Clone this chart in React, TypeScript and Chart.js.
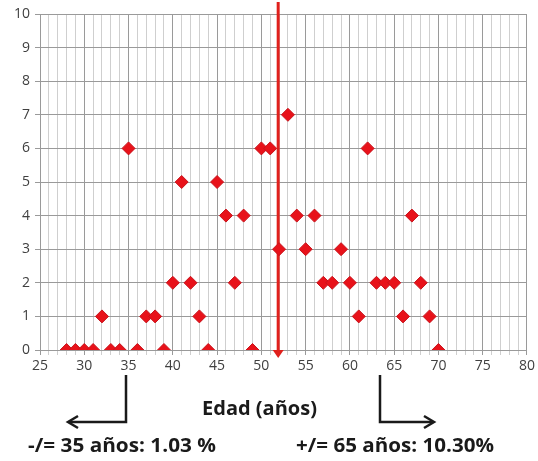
import React, { useEffect, useRef } from "react";
import { Chart, registerables } from "chart.js";

Chart.register(...registerables);

const ages = [28, 29, 30, 31, 32, 33, 34, 35, 36, 37, 38, 39, 40, 41, 42, 43, 44, 45, 46, 47, 48, 49, 50, 51, 52, 53, 54, 55, 56, 57, 58, 59, 60, 61, 62, 63, 64, 65, 66, 67, 68, 69, 70];
const counts = [0, 0, 0, 0, 1, 0, 0, 6, 0, 1, 1, 0, 2, 5, 2, 1, 0, 5, 4, 2, 4, 0, 6, 6, 3, 7, 4, 3, 4, 2, 2, 3, 2, 1, 6, 2, 2, 2, 1, 4, 2, 1, 0];
const meanAge = 51.9;
const xTitle = "Edad (años)";
const leftNote = "-/= 35 años: 1.03 %";
const rightNote = "+/= 65 años: 10.30%";

function fitText(ctx: any, text: string, x: number, y: number, width: number) {
  const w = ctx.measureText(text).width;
  ctx.save();
  ctx.translate(x, y);
  ctx.scale(width / w, 1);
  ctx.fillText(text, 0, 0);
  ctx.restore();
}

const overlay = {
  id: "overlay",
  beforeDatasetsDraw(chart: any) {
    const { ctx, scales } = chart;
    const x = scales.x.getPixelForValue(meanAge);
    const yBottom = scales.y.getPixelForValue(0);
    ctx.save();
    ctx.strokeStyle = "#e0201c";
    ctx.fillStyle = "#e0201c";
    ctx.lineWidth = 3;
    ctx.beginPath();
    ctx.moveTo(x, 2);
    ctx.lineTo(x, yBottom);
    ctx.stroke();
    ctx.beginPath();
    ctx.moveTo(x - 5.5, yBottom);
    ctx.lineTo(x + 5.5, yBottom);
    ctx.lineTo(x, yBottom + 8);
    ctx.closePath();
    ctx.fill();
    ctx.restore();
  },
  afterDraw(chart: any) {
    const { ctx } = chart;
    ctx.save();
    ctx.fillStyle = "#1a1a1a";
    ctx.textBaseline = "middle";
    ctx.font = "bold 20px 'Open Sans', sans-serif";
    ctx.textAlign = "left";
    fitText(ctx, xTitle, 202, 409, 115);
    fitText(ctx, leftNote, 28, 446, 188);
    fitText(ctx, rightNote, 296, 446, 198);

    ctx.strokeStyle = "#1a1a1a";
    ctx.lineWidth = 2.5;
    ctx.lineJoin = "miter";
    // left arrow
    ctx.beginPath();
    ctx.moveTo(126, 375);
    ctx.lineTo(126, 422);
    ctx.lineTo(69, 422);
    ctx.stroke();
    ctx.beginPath();
    ctx.moveTo(78, 416);
    ctx.lineTo(68, 422);
    ctx.lineTo(78, 428);
    ctx.stroke();
    // right arrow
    ctx.beginPath();
    ctx.moveTo(380, 375);
    ctx.lineTo(380, 422);
    ctx.lineTo(433, 422);
    ctx.stroke();
    ctx.beginPath();
    ctx.moveTo(424, 416);
    ctx.lineTo(434, 422);
    ctx.lineTo(424, 428);
    ctx.stroke();
    ctx.restore();
  },
};

export default function App() {
  const ref = useRef<HTMLCanvasElement>(null);
  useEffect(() => {
    if (!ref.current) return;
    const chart = new Chart(ref.current, {
      type: "scatter",
      data: {
        datasets: [
          {
            data: ages.map((a, i) => ({ x: a, y: counts[i] })),
            pointStyle: "rectRot",
            pointRadius: 6.5,
            backgroundColor: "#e8121a",
            borderColor: "#c8141c",
            borderWidth: 1,
          },
        ],
      },
      options: {
        animation: false,
        responsive: false,
        maintainAspectRatio: false,
        layout: { padding: { top: 14, right: 10, bottom: 89, left: 0 } },
        plugins: { legend: { display: false }, tooltip: { enabled: false } },
        scales: {
          x: {
            type: "linear",
            min: 25,
            max: 80,
            afterFit(scale: any) {
              scale.height = 22;
            },
            ticks: {
              stepSize: 1,
              autoSkip: false,
              maxRotation: 0,
              padding: 3,
              color: "#404040",
              font: { family: "'Open Sans', sans-serif", size: 14 },
              callback: (v: any) => (Number(v) % 5 === 0 ? String(v) : ""),
            },
            grid: {
              color: (c: any) => (c.tick && c.tick.value % 5 === 0 ? "#9a9a9a" : "#cfcfcf"),
              tickLength: 5,
              lineWidth: 1,
            },
            border: { color: "#9a9a9a" },
          },
          y: {
            type: "linear",
            min: 0,
            max: 10,
            afterFit(scale: any) {
              scale.width = 40;
            },
            ticks: {
              stepSize: 1,
              padding: 5,
              color: "#404040",
              font: { family: "'Open Sans', sans-serif", size: 14 },
            },
            grid: { color: "#9a9a9a", tickLength: 5, lineWidth: 1 },
            border: { color: "#9a9a9a" },
          },
        },
      },
      plugins: [overlay],
    });
    return () => chart.destroy();
  }, []);
  return (
    <div style={{ position: "absolute", left: 0, top: 0, width: 538, height: 461, background: "#fff" }}>
      <canvas ref={ref} width={538} height={461} style={{ width: 538, height: 461, display: "block" }} />
    </div>
  );
}
